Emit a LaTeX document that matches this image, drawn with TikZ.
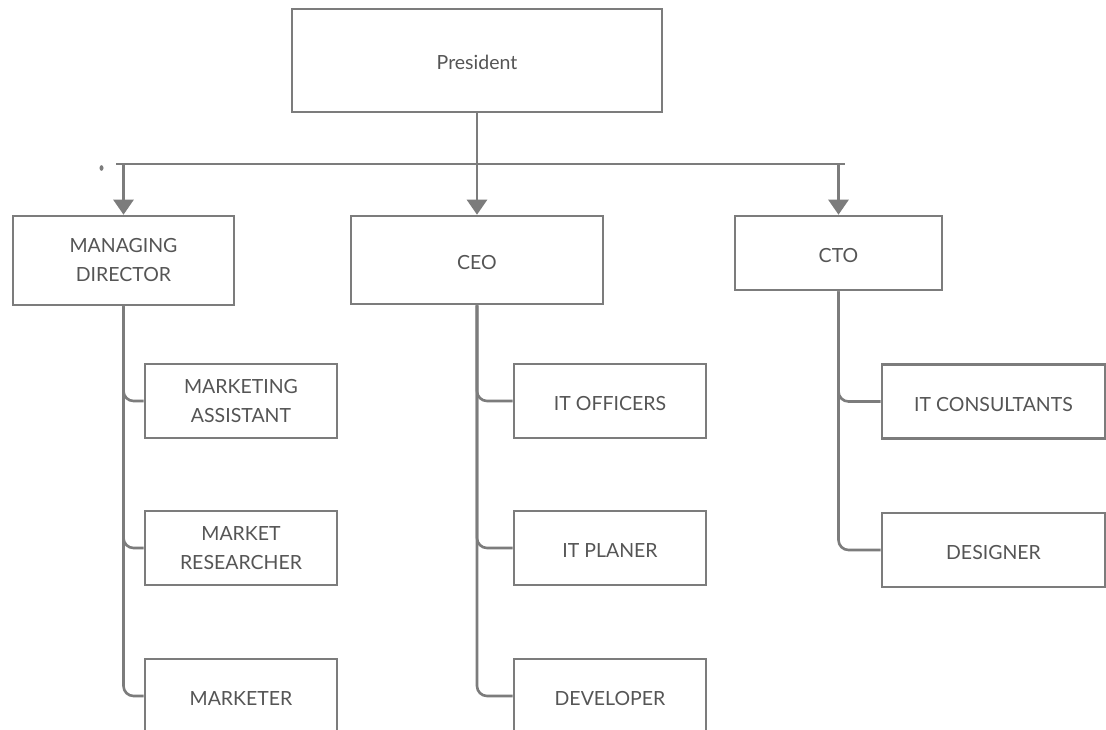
\documentclass[tikz,border=0pt]{standalone}
\usepackage{fontspec}
\setmainfont{Lato}
\usetikzlibrary{arrows.meta}
\definecolor{linegray}{HTML}{7C7C7C}
\definecolor{textgray}{HTML}{555555}
\tikzset{
  box/.style={draw=linegray, line width=2.6pt, fill=white, align=center, inner sep=0pt,
    text=textgray, font=\fontsize{19.5}{29}\selectfont},
  oneline/.style={text height=19pt, text depth=0pt},
  bus/.style={draw=linegray, line width=2.6pt},
  arr/.style={draw=linegray, line width=2.6pt, -{Triangle[width=20pt,length=15pt]}},
  conn/.style={draw=linegray, line width=2.6pt, rounded corners=10pt},
}
\begin{document}
\begin{tikzpicture}[x=1pt,y=-1pt]
\useasboundingbox (0,0) rectangle (1106,730);
\clip (0,0) rectangle (1106,730);
\fill[white] (0,0) rectangle (1106,730);
% top level
\node[box, oneline, minimum width=370pt, minimum height=103pt] (pres) at (477,60.5) {President};
% second level
\node[box, minimum width=221pt, minimum height=89pt] (md) at (123.5,260.5) {MANAGING\\DIRECTOR};
\node[box, oneline, minimum width=252pt, minimum height=88pt] (ceo) at (477,260) {CEO};
\node[box, oneline, minimum width=207pt, minimum height=74pt] (cto) at (838.5,253) {CTO};
% third level
\node[box, minimum width=192pt, minimum height=74pt] (ma) at (241,401) {MARKETING\\ASSISTANT};
\node[box, minimum width=192pt, minimum height=74pt] (mr) at (241,548) {MARKET\\RESEARCHER};
\node[box, oneline, minimum width=192pt, minimum height=74pt] (mk) at (241,696) {MARKETER};
\node[box, oneline, minimum width=192pt, minimum height=74pt] (ito) at (610,401) {IT OFFICERS};
\node[box, oneline, minimum width=192pt, minimum height=74pt] (itp) at (610,548) {IT PLANER};
\node[box, oneline, minimum width=192pt, minimum height=74pt] (dev) at (610,696) {DEVELOPER};
\node[box, oneline, minimum width=223pt, minimum height=74pt] (itc) at (993.5,401.5) {IT CONSULTANTS};
\node[box, oneline, minimum width=223pt, minimum height=74pt] (des) at (993.5,550) {DESIGNER};
% bus
\coordinate (busL) at (116,164);
\coordinate (busR) at (845,164);
\draw[bus] (busL) -- (busR);
\draw[arr] (pres.south) -- (ceo.north);
\draw[arr] (busL -| md.north) -- (md.north);
\draw[arr] (busL -| cto.north) -- (cto.north);
% stray mark
\fill[linegray] (101.5,168) ellipse (2pt and 2.8pt);
% child connectors
\draw[conn] (md.south) |- (ma.west);
\draw[conn] (md.south) |- (mr.west);
\draw[conn] (md.south) |- (mk.west);
\draw[conn] (ceo.south) |- (ito.west);
\draw[conn] (ceo.south) |- (itp.west);
\draw[conn] (ceo.south) |- (dev.west);
\draw[conn] (cto.south) |- (itc.west);
\draw[conn] (cto.south) |- (des.west);
\end{tikzpicture}
\end{document}
